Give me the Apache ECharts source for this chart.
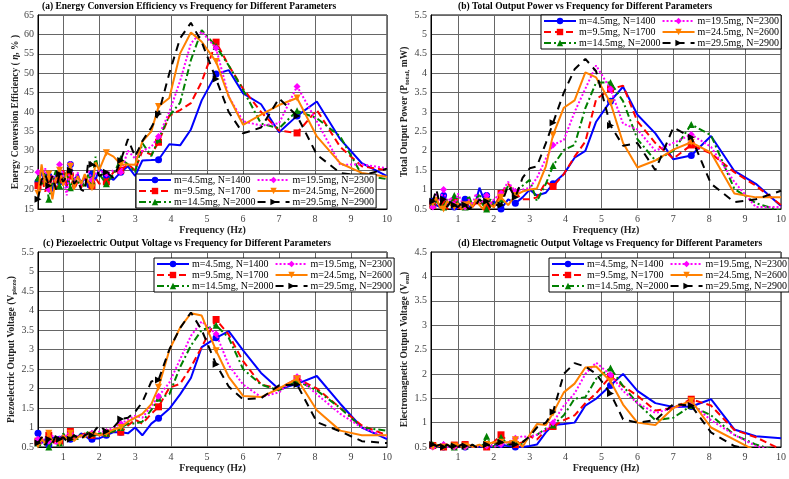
<!DOCTYPE html>
<html><head><meta charset="utf-8">
<script src="https://cdn.jsdelivr.net/npm/echarts@6/dist/echarts.min.js"></script>
<style>html,body{margin:0;padding:0;background:#fff}#c{width:789px;height:479px}</style>
</head><body><div id="c"></div>
<script>
// ---- data ----
const FREQ = [0.3,0.4,0.5,0.6,0.7,0.8,0.9,1.0,1.1,1.2,1.3,1.4,1.5,1.6,1.7,1.8,1.9,2.0,2.2,2.4,2.6,2.8,3.0,3.2,3.45,3.65,3.95,4.25,4.55,4.85,5.25,5.6,6.0,6.5,7.0,7.5,8.05,8.7,9.3,10];
const MARKER_IDX = [0,3,6,9,15,18,20,25,30,35];
const NAMES = ['m=4.5mg, N=1400','m=9.5mg, N=1700','m=14.5mg, N=2000','m=19.5mg, N=2300','m=24.5mg, N=2600','m=29.5mg, N=2900'];

const eff_45 = [22,24.5,21,23.5,19.5,24,22,25,20.5,26.5,22,24,21.5,23,20.5,24,22.5,25.5, 23.5,22.5,24.5,26, 23.5,27.5,27.6,27.7,31.7,31.4,35.5,43,49.8,50.8,44.8,42,34.8,39,42.7,33,26.8,23.5];
const eff_95 = [21,23,19.5,22,24,20,22.5,25,21,23.5,20,22,20.5,23,21.5,21,23,21.5, 22,24.5,25,26.5, 25,30,29,32.2,39,40.5,42.3,47.8,58,52,46,40,35.2,34.6,40.5,31,26,25];
const eff_145 = [23,21,24.5,17.5,22,25,21,23,24.5,20.5,23,21.5,22.5,20.5,24,22,28.5,24, 21.5,24,28,26.5, 24.5,32,28.6,33,39,42.4,53.4,61.1,56.9,52,45.7,37,35.8,40.3,38.4,33.7,23.8,22.7];
const eff_195 = [24.5,22,25.5,20,23.5,22,26.5,24,18.5,26.5,22,24.5,21,23.5,25,22.5,24,25, 24,25,24.5,30, 28,30,31,33.7,40,48,57.7,60.7,56.4,44,37.6,36.5,37.1,46.6,37.6,26.4,26.5,25.5];
const eff_245 = [19,26.5,21,24,17.5,23,25,21,24.5,26,20,23.5,21.5,24,22,20.5,27,25, 29.5,28.5,26.5,26.5, 26.4,32.4,35,41.4,43.6,55.1,60.5,58.1,53,44,36.7,39.3,41.8,43.6,33.7,26.8,24.3,23.3];
const eff_295 = [17.5,22.5,24,21,23.5,20,24,22,23.5,25,21.5,22.5,20,19.5,27.5,26.5,26,23.5, 24.5,23,27.5,33, 28.5,32.5,36,39.5,50,59,63,58,48.5,40,34.5,36,43.5,39,29,24.3,23.6,25.4];

const pow_45 = [0.7,0.6,0.55,0.85,0.6,0.7,0.55,0.65,0.6,0.75,0.55,0.6,0.7,1.05,0.8,0.85,0.6,0.7, 0.5,0.75,0.65,0.8, 1.0,0.85,0.92,1.15,1.4,1.82,2.0,2.75,3.28,3.65,2.93,2.45,1.78,1.88,2.38,1.48,1.15,0.58];
const pow_95 = [0.6,0.75,0.55,0.65,0.5,0.6,0.7,0.55,0.5,0.6,0.7,0.55,0.65,0.6,0.7,0.55,0.75,0.55, 0.9,1.15,0.9,0.75, 0.75,0.8,1.2,1.08,1.4,1.85,2.24,3.33,3.59,3.68,2.76,2.2,1.8,2.15,1.93,1.45,1.1,0.6];
const pow_145 = [0.65,0.7,0.6,0.55,0.75,0.6,0.85,0.6,0.7,0.55,0.85,0.6,0.7,0.9,0.6,0.5,0.75,0.6, 0.75,1.1,0.95,1.1, 1.25,0.7,1.15,1.62,2.02,2.15,3.1,3.76,3.76,3.28,2.3,1.75,2.0,2.68,2.4,1.02,0.65,0.45];
const pow_195 = [0.55,0.9,0.7,1.0,0.65,0.8,0.6,0.9,0.7,0.55,0.75,0.6,0.9,0.65,0.7,0.85,0.6,0.75, 0.9,1.2,0.95,1.0, 1.05,1.3,1.8,2.15,2.28,3.0,3.6,4.2,3.59,2.7,2.55,2.0,2.2,2.42,2.1,1.2,0.55,0.55];
const pow_245 = [0.65,0.8,0.55,0.5,0.7,0.6,0.55,0.65,0.5,0.6,0.7,0.55,0.75,0.6,0.5,0.7,0.6,0.55, 0.8,0.6,0.85,0.95, 1.0,1.03,1.6,2.41,3.11,3.3,4.02,3.89,3.24,2.2,1.57,1.75,2.03,2.22,1.95,0.9,0.8,0.8];
const pow_295 = [0.7,1.0,0.6,0.75,0.55,0.7,0.6,0.55,0.65,0.6,0.5,0.55,0.6,0.75,0.65,0.7,0.55,0.6, 0.6,1.1,0.8,1.3, 1.55,1.6,2.2,2.72,3.5,4.1,4.37,4.05,2.65,2.13,2.2,1.5,2.6,2.35,1.15,0.68,0.75,0.97];

const vpz_45 = [0.85,0.6,0.7,0.55,0.75,0.65,0.7,0.8,0.75,0.7,0.8,0.75,0.85,0.8,0.72,0.7,0.72,0.72, 0.8,0.88,0.88,0.85, 1.0,0.8,1.1,1.24,1.48,1.85,2.27,3.06,3.3,3.47,2.98,2.4,1.98,2.12,2.32,1.61,1.0,0.7];
const vpz_95 = [0.65,0.75,0.6,0.8,0.55,0.7,0.65,0.8,0.7,0.9,0.75,0.7,0.8,0.85,0.75,0.8,0.85,0.8, 0.85,0.9,0.88,1.05, 1.2,1.1,1.35,1.53,2.02,2.12,2.55,3.06,3.77,3.38,2.7,2.1,2.0,2.25,2.0,1.5,1.05,0.8];
const vpz_145 = [0.6,0.7,0.55,0.5,0.65,0.75,0.6,0.85,0.7,0.75,0.8,0.7,0.85,0.8,0.9,0.85,0.8,0.85, 0.85,0.9,1.0,1.1, 1.1,1.15,1.45,1.75,1.85,2.55,3.1,3.5,3.62,3.3,2.5,2.1,1.95,2.2,1.95,1.5,1.0,0.92];
const vpz_195 = [0.7,0.6,0.75,0.65,0.8,0.55,0.7,0.75,0.8,0.85,0.7,0.8,0.75,0.85,0.8,0.85,0.8,0.9, 0.9,1.0,1.1,1.2, 1.3,1.25,1.55,1.8,2.15,2.75,3.35,3.72,3.4,2.6,2.1,1.78,1.9,2.3,1.85,1.35,1.0,0.75];
const vpz_245 = [0.55,0.7,0.6,0.85,0.65,0.75,0.6,0.8,0.7,0.85,0.65,0.75,0.8,0.75,0.85,0.8,0.85,0.8, 0.85,0.95,1.0,1.15, 1.25,1.35,1.6,2.03,2.98,3.56,3.93,3.87,2.97,2.3,1.81,1.78,2.0,2.25,1.44,0.92,0.8,0.8];
const vpz_295 = [0.6,0.75,0.55,0.7,0.6,0.8,0.7,0.75,0.65,0.7,0.8,0.75,0.7,0.8,0.85,0.8,0.95,1.05, 0.9,1.0,1.22,1.25, 1.4,1.65,2.18,2.22,3.0,3.55,3.95,3.5,2.62,2.05,1.72,1.75,2.08,2.1,1.14,0.9,0.65,0.6];

const vem_45 = [0.52,0.5,0.52,0.5,0.51,0.5,0.52,0.5,0.51,0.5,0.52,0.5,0.5,0.51,0.5,0.52,0.5,0.52, 0.55,0.52,0.5,0.5, 0.52,0.55,0.8,0.95,0.97,1.0,1.35,1.49,1.76,2.0,1.65,1.4,1.32,1.33,1.48,0.86,0.72,0.68];
const vem_95 = [0.53,0.5,0.55,0.5,0.52,0.5,0.54,0.5,0.52,0.55,0.5,0.52,0.5,0.55,0.52,0.5,0.55,0.6, 0.75,0.6,0.55,0.6, 0.72,0.65,0.85,0.92,1.05,1.15,1.4,1.6,1.95,1.75,1.55,1.25,1.3,1.48,1.35,0.85,0.7,0.45];
const vem_145 = [0.55,0.5,0.52,0.55,0.5,0.53,0.5,0.55,0.5,0.52,0.5,0.55,0.5,0.52,0.55,0.72,0.55,0.5, 0.7,0.55,0.62,0.55, 0.72,0.75,0.88,0.95,1.15,1.49,1.52,1.9,2.12,1.75,1.4,1.05,1.1,1.35,1.15,0.75,0.55,0.4];
const vem_195 = [0.5,0.52,0.5,0.55,0.5,0.52,0.5,0.55,0.52,0.5,0.54,0.5,0.52,0.5,0.55,0.52,0.55,0.5, 0.55,0.6,0.68,0.72, 0.7,0.75,0.85,1.0,1.35,1.6,2.0,2.23,1.98,1.65,1.4,1.2,1.3,1.4,1.05,0.75,0.52,0.4];
const vem_245 = [0.5,0.55,0.52,0.5,0.55,0.5,0.52,0.55,0.5,0.52,0.55,0.5,0.52,0.55,0.5,0.55,0.58,0.6, 0.6,0.6,0.65,0.5, 0.75,0.97,0.95,1.2,1.62,1.8,2.13,2.15,1.85,1.37,1.0,0.95,1.3,1.45,0.9,0.65,0.42,0.35];
const vem_295 = [0.55,0.52,0.55,0.5,0.55,0.5,0.52,0.5,0.55,0.52,0.5,0.55,0.5,0.52,0.5,0.55,0.52,0.55, 0.6,0.55,0.55,0.6, 0.72,0.9,1.0,1.22,2.0,2.22,2.15,2.0,1.6,1.07,1.0,1.05,1.38,1.35,0.8,0.52,0.42,0.4];

const TITLES = [
  '(a) Energy Conversion Efficiency vs Frequency for Different Parameters',
  '(b) Total Output Power vs Frequency for Different Parameters',
  '(c) Piezoelectric Output Voltage vs Frequency for Different Parameters',
  '(d) Electromagnetic Output Voltage vs Frequency for Different Parameters'
];
const YNAMES = [
  '{b|Energy Conversion Efficiency ( }{i|η}{b|, % )}',
  '{b|Total Output Power (P}{s|total,}{b| mW)}',
  '{b|Piezoelectric Output Voltage (V}{s|piezo}{b|)}',
  '{b|Electromagnetic Output Voltage (V}{s|em}{b|)}'
];
const XNAME = 'Frequency (Hz)';

// ---- styling ----
const FONT = "'Liberation Serif','Times New Roman',serif";
const COLORS = ['#0000FF','#FF0000','#008000','#FF00FF','#FF8000','#000000'];
const SYMBOLS = ['circle','rect','triangle','diamond','triangle','triangle'];
const ROT = [0,0,0,0,180,-90];
const DASH = ['solid',[7,4],[7,3,2,3],[2,2],'solid',[8,6]];

const panels = [
  {grid:{left:38,right:402,top:15,bottom:270}, xmin:0.3, ymin:15, ymax:65, yint:5,
   sets:[eff_45,eff_95,eff_145,eff_195,eff_245,eff_295], tl:42, tt:2, gap:12.5, lg:{left:136,top:174}},
  {grid:{left:431,right:7,top:15,bottom:270}, xmin:0.25, ymin:0.5, ymax:5.5, yint:0.5,
   sets:[pow_45,pow_95,pow_145,pow_195,pow_245,pow_295], tl:458, tt:2, gap:18.5, lg:{left:541,top:15}},
  {grid:{left:38,right:402,top:252,bottom:32}, xmin:0.3, ymin:0.5, ymax:5.5, yint:0.5,
   sets:[vpz_45,vpz_95,vpz_145,vpz_195,vpz_245,vpz_295], tl:43, tt:239, gap:19.5, lg:{left:154,top:258}},
  {grid:{left:431,right:7,top:252,bottom:32}, xmin:0.25, ymin:0.5, ymax:4.5, yint:0.5,
   sets:[vem_45,vem_95,vem_145,vem_195,vem_245,vem_295], tl:458, tt:239, gap:19.5, lg:{left:549,top:258}}
];

const option = {animation:false, backgroundColor:'#fff', title:[], grid:[], xAxis:[], yAxis:[], legend:[], series:[]};
panels.forEach((p, k) => {
  option.title.push({text: TITLES[k], left: p.tl, top: p.tt, padding: 0,
    textStyle:{fontFamily:FONT, fontSize:9.5, fontWeight:'bold', color:'#000'}});
  option.grid.push(Object.assign({show:true, borderColor:'#000', borderWidth:1, backgroundColor:'#fff', containLabel:false}, p.grid));
  option.xAxis.push({type:'value', gridIndex:k, min:p.xmin, max:10, splitNumber:10,
    name: XNAME, nameLocation:'middle', nameGap:16,
    nameTextStyle:{fontFamily:FONT, fontSize:10, fontWeight:'bold', color:'#222'},
    axisLine:{show:true, lineStyle:{color:'#000'}}, axisTick:{show:false},
    axisLabel:{showMinLabel:false, fontFamily:FONT, fontSize:10, color:'#444', margin:5},
    splitLine:{show:true, lineStyle:{color:'#666', width:1}}});
  option.yAxis.push({type:'value', gridIndex:k, min:p.ymin, max:p.ymax, interval:p.yint,
    name: YNAMES[k], nameLocation:'middle', nameGap:p.gap, nameRotate:90,
    nameTextStyle:{fontFamily:FONT, color:'#222', rich:{
      b:{fontFamily:FONT, fontSize:9.5, fontWeight:'bold', color:'#222', lineHeight:11, verticalAlign:'top'},
      i:{fontFamily:FONT, fontSize:9.5, fontStyle:'italic', fontWeight:'bold', color:'#222', lineHeight:11, verticalAlign:'top'},
      s:{fontFamily:FONT, fontSize:7, fontWeight:'bold', color:'#222', lineHeight:8, padding:[5,0,0,0], verticalAlign:'bottom'}
    }},
    axisLine:{show:true, lineStyle:{color:'#000'}}, axisTick:{show:false},
    axisLabel:{fontFamily:FONT, fontSize:10, color:'#444', margin:4},
    splitLine:{show:true, lineStyle:{color:'#666', width:1}}});
  option.legend.push({orient:'vertical', left:p.lg.left, top:p.lg.top, height:37,
    data: NAMES.slice(), itemWidth:32, itemHeight:8, itemGap:1, padding:[1,2,1,2],
    backgroundColor:'#fff', borderColor:'#000', borderWidth:1, borderRadius:0,
    textStyle:{fontFamily:FONT, fontSize:10, lineHeight:10, color:'#000', padding:[0,0,0,-2]}, z:10});
  p.sets.forEach((vals, s) => {
    option.series.push({type:'line', name:NAMES[s], xAxisIndex:k, yAxisIndex:k,
      data: vals.map((v, i) => MARKER_IDX.includes(i) ? {value:[FREQ[i], v]} : {value:[FREQ[i], v], symbol:'none'}),
      symbol:SYMBOLS[s], symbolRotate:ROT[s], symbolSize:7, showAllSymbol:true,
      itemStyle:{color:COLORS[s]}, lineStyle:{color:COLORS[s], width:2, type:DASH[s]},
      clip:true, z:2+s});
  });
});
const chart = echarts.init(document.getElementById('c'), null, {renderer:'canvas'});
chart.setOption(option);
</script></body></html>
